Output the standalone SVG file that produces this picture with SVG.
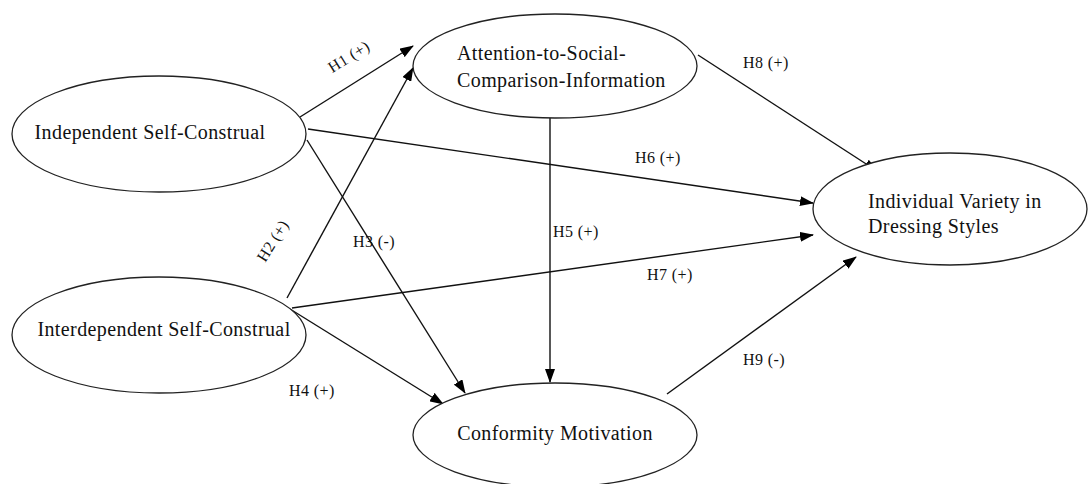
<svg xmlns="http://www.w3.org/2000/svg" width="1088" height="484" viewBox="0 0 1088 484">
<style>
.node ellipse{fill:#fff;stroke:#222;stroke-width:1.3}
.nt{font-family:"Liberation Serif","Times New Roman",serif;font-size:20px;fill:#111;letter-spacing:0.4px}
.lbl{font-family:"Liberation Serif","Times New Roman",serif;font-size:16px;fill:#111;letter-spacing:0.4px}
.conn line{stroke:#111;stroke-width:1.4;marker-end:url(#ah)}
</style>
<defs>
<marker id="ah" markerWidth="14" markerHeight="10" refX="13" refY="5" orient="auto" markerUnits="userSpaceOnUse">
<path d="M0,0 L14,5 L0,10 Z" fill="#000"/>
</marker>
</defs>
<rect width="1088" height="484" fill="#fff"/>
<g id="conn" class="conn">
<line x1="300" y1="117" x2="413" y2="46"/>
<line x1="287" y1="298" x2="413" y2="68"/>
<line x1="307" y1="140" x2="465" y2="393"/>
<line x1="290" y1="309" x2="443" y2="404"/>
<line x1="550" y1="118" x2="550" y2="382"/>
<line x1="308" y1="129" x2="813" y2="203"/>
<line x1="292" y1="308" x2="813" y2="235"/>
<line x1="698" y1="55" x2="877" y2="171"/>
<line x1="667" y1="394" x2="856" y2="257"/>
</g>
<g id="n-independent" class="node">
<ellipse cx="159" cy="134" rx="147" ry="58"/>
<text class="nt" x="150" y="139" text-anchor="middle">Independent Self-Construal</text>
</g>
<g id="n-interdependent" class="node">
<ellipse cx="159" cy="335" rx="147" ry="58"/>
<text class="nt" x="164" y="336" text-anchor="middle">Interdependent Self-Construal</text>
</g>
<g id="n-attention" class="node">
<ellipse cx="555" cy="66" rx="142" ry="52"/>
<text class="nt" x="457" y="60">Attention-to-Social-</text>
<text class="nt" x="457" y="87">Comparison-Information</text>
</g>
<g id="n-variety" class="node">
<ellipse cx="950" cy="209" rx="137" ry="56"/>
<text class="nt" x="868" y="208">Individual Variety in</text>
<text class="nt" x="868" y="233">Dressing Styles</text>
</g>
<g id="n-conformity" class="node">
<ellipse cx="555" cy="435" rx="142" ry="52"/>
<text class="nt" x="555" y="440" text-anchor="middle">Conformity Motivation</text>
</g>
<g id="labels">
<text class="lbl" x="349" y="62" text-anchor="middle" transform="rotate(-32 349 57)">H1 (+)</text>
<text class="lbl" x="273" y="246" text-anchor="middle" transform="rotate(-58 273 241)">H2 (+)</text>
<text class="lbl" x="353" y="247">H3 (-)</text>
<text class="lbl" x="289" y="396">H4 (+)</text>
<text class="lbl" x="553" y="237">H5 (+)</text>
<text class="lbl" x="635" y="163">H6 (+)</text>
<text class="lbl" x="647" y="280">H7 (+)</text>
<text class="lbl" x="743" y="68">H8 (+)</text>
<text class="lbl" x="743" y="365">H9 (-)</text>
</g>
</svg>
